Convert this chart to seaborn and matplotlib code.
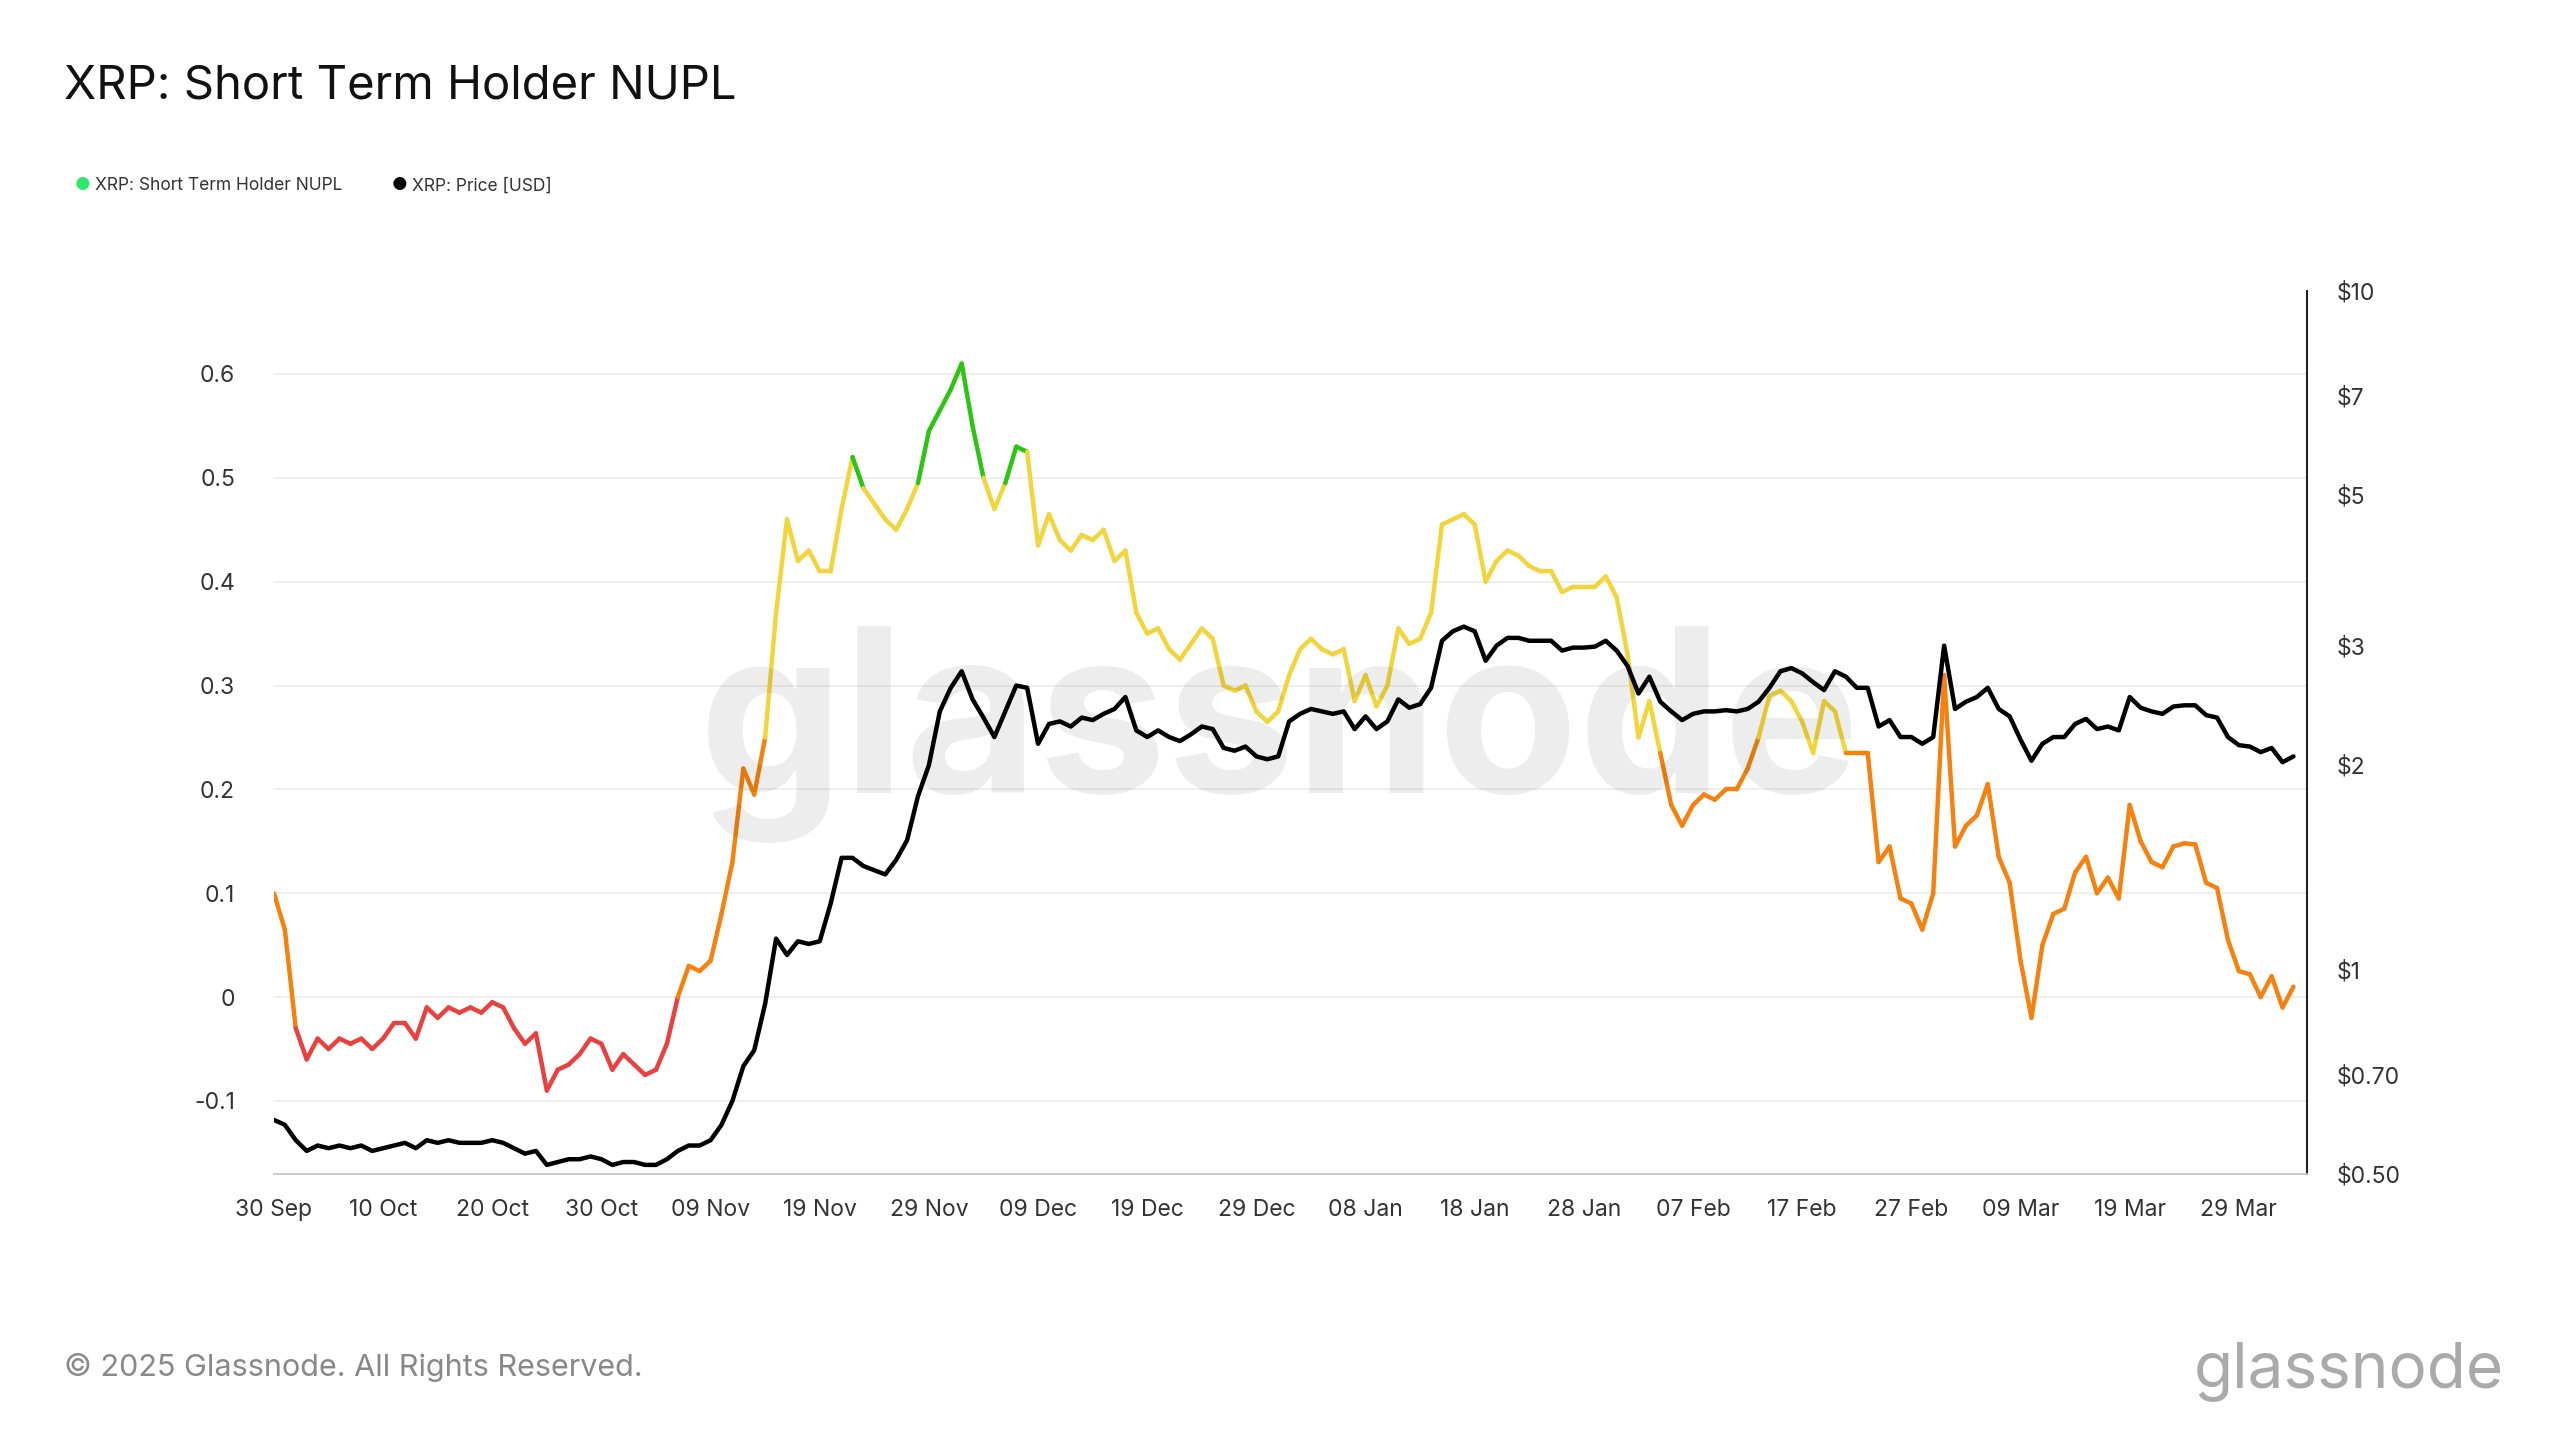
import numpy as np
import pandas as pd
import matplotlib
matplotlib.use("Agg")
import matplotlib.pyplot as plt
import matplotlib.dates as mdates
from matplotlib.collections import LineCollection
from matplotlib.colors import ListedColormap, BoundaryNorm
import seaborn as sns

# -----------------------------
# Data (daily, 30 Sep 2024 - 03 Apr 2025)
# -----------------------------
start_date = "2024-09-30"

nupl = [
    0.10,
    0.065, -0.03, -0.06, -0.04, -0.05, -0.04, -0.045, -0.04, -0.05, -0.04,
    -0.025, -0.025, -0.04, -0.01, -0.02, -0.01, -0.015, -0.01, -0.015, -0.005,
    -0.01, -0.03, -0.045, -0.035, -0.09, -0.07, -0.065, -0.055, -0.04, -0.045, -0.07,
    -0.055, -0.065, -0.075, -0.07, -0.045, 0.0, 0.03, 0.025, 0.035, 0.08,
    0.13, 0.22, 0.195, 0.25, 0.37, 0.46, 0.42, 0.43, 0.41, 0.41,
    0.47, 0.52, 0.49, 0.475, 0.46, 0.45, 0.47, 0.495, 0.545, 0.565,
    0.585, 0.61, 0.55, 0.50, 0.47, 0.495, 0.53, 0.525, 0.435, 0.465,
    0.44, 0.43, 0.445, 0.44, 0.45, 0.42, 0.43, 0.37, 0.35, 0.355,
    0.335, 0.325, 0.34, 0.355, 0.345, 0.30, 0.295, 0.30, 0.275, 0.265, 0.275,
    0.31, 0.335, 0.345, 0.335, 0.33, 0.335, 0.285, 0.31, 0.28, 0.30,
    0.355, 0.34, 0.345, 0.37, 0.455, 0.46, 0.465, 0.455, 0.40, 0.42,
    0.43, 0.425, 0.415, 0.41, 0.41, 0.39, 0.395, 0.395, 0.395, 0.405, 0.385,
    0.33, 0.25, 0.285, 0.235, 0.185, 0.165, 0.185, 0.195, 0.19, 0.20,
    0.20, 0.22, 0.25, 0.29, 0.295, 0.285, 0.265, 0.235, 0.285, 0.275,
    0.235, 0.235, 0.235, 0.13, 0.145, 0.095, 0.09, 0.065,
    0.10, 0.31, 0.145, 0.165, 0.175, 0.205, 0.135, 0.11, 0.035, -0.02,
    0.05, 0.08, 0.085, 0.12, 0.135, 0.10, 0.115, 0.095, 0.185, 0.15,
    0.13, 0.125, 0.145, 0.148, 0.147, 0.11, 0.105, 0.055, 0.025, 0.022, 0.0,
    0.02, -0.01, 0.01,
]

price = [
    0.60,
    0.59, 0.56, 0.54, 0.55, 0.545, 0.55, 0.545, 0.55, 0.54, 0.545,
    0.55, 0.555, 0.545, 0.56, 0.555, 0.56, 0.555, 0.555, 0.555, 0.56,
    0.555, 0.545, 0.535, 0.54, 0.515, 0.52, 0.525, 0.525, 0.53, 0.525, 0.515,
    0.52, 0.52, 0.515, 0.515, 0.525, 0.54, 0.55, 0.55, 0.56, 0.59,
    0.64, 0.72, 0.76, 0.89, 1.11, 1.05, 1.10, 1.09, 1.10, 1.25,
    1.46, 1.46, 1.42, 1.40, 1.38, 1.45, 1.55, 1.80, 2.00, 2.40,
    2.60, 2.75, 2.50, 2.35, 2.20, 2.40, 2.62, 2.60, 2.15, 2.30,
    2.32, 2.28, 2.35, 2.33, 2.38, 2.42, 2.52, 2.25, 2.20, 2.25,
    2.20, 2.17, 2.22, 2.28, 2.26, 2.12, 2.10, 2.13, 2.06, 2.04, 2.06,
    2.32, 2.38, 2.42, 2.40, 2.38, 2.40, 2.26, 2.36, 2.26, 2.32,
    2.50, 2.43, 2.46, 2.60, 3.05, 3.15, 3.20, 3.15, 2.85, 3.00,
    3.08, 3.08, 3.05, 3.05, 3.05, 2.95, 2.98, 2.98, 2.99, 3.05, 2.95,
    2.80, 2.55, 2.70, 2.48, 2.40, 2.33, 2.38, 2.40, 2.40, 2.41,
    2.40, 2.42, 2.48, 2.60, 2.75, 2.78, 2.73, 2.65, 2.58, 2.75,
    2.70, 2.60, 2.60, 2.28, 2.33, 2.20, 2.20, 2.15,
    2.20, 3.00, 2.42, 2.48, 2.52, 2.60, 2.42, 2.36, 2.18, 2.03,
    2.15, 2.20, 2.20, 2.30, 2.34, 2.26, 2.28, 2.25, 2.52, 2.43,
    2.40, 2.38, 2.44, 2.45, 2.45, 2.37, 2.35, 2.20, 2.14, 2.13, 2.09,
    2.12, 2.02, 2.06,
]

nupl_bounds = [-1, 0, 0.25, 0.5, 1]
nupl_colors = ["#e8413f", "#f5820f", "#f2d53c", "#2ec414"]

left_ticks = [-0.1, 0, 0.1, 0.2, 0.3, 0.4, 0.5, 0.6]
left_labels = ["-0.1", "0", "0.1", "0.2", "0.3", "0.4", "0.5", "0.6"]
right_ticks = [0.5, 0.7, 1, 2, 3, 5, 7, 10]
right_labels = ["$0.50", "$0.70", "$1", "$2", "$3", "$5", "$7", "$10"]

FONT = "Inter"

# -----------------------------
# Build frame
# -----------------------------
df = pd.DataFrame({
    "date": pd.date_range(start_date, periods=len(nupl), freq="D"),
    "nupl": nupl,
    "price": price,
})

sns.set_theme(style="white", rc={"font.family": FONT})
fig = plt.figure(figsize=(25.6, 14.4), dpi=100)
ax = fig.add_axes([0.107, 0.185, 0.794, 0.613])
ax2 = ax.twinx()

# NUPL line, coloured by regime
x = mdates.date2num(df["date"])
pts = np.column_stack([x, df["nupl"].values]).reshape(-1, 1, 2)
segs = np.concatenate([pts[:-1], pts[1:]], axis=1)
mid = (df["nupl"].values[:-1] + df["nupl"].values[1:]) / 2
cmap = ListedColormap(nupl_colors)
norm = BoundaryNorm(nupl_bounds, cmap.N)
lc = LineCollection(segs, cmap=cmap, norm=norm, linewidth=3.2, capstyle="round")
lc.set_array(mid)
ax.add_collection(lc)

# Price line
sns.lineplot(data=df, x="date", y="price", ax=ax2, color="black", linewidth=3.2)
ax2.set_yscale("log")

x_end = df["date"].iloc[-1] + pd.Timedelta(days=1.2)
ax.set_xlim(df["date"].iloc[0], x_end)
ax.set_ylim(-0.17, 0.68)
ax2.set_ylim(0.5, 10)

ax.set_yticks(left_ticks)
ax.set_yticklabels(left_labels)
ax2.set_yticks(right_ticks)
ax2.set_yticklabels(right_labels)
ax2.minorticks_off()
ax.grid(axis="y", color="#ececec", linewidth=1.2)
ax.set_axisbelow(True)

xticks = pd.date_range(start_date, periods=19, freq="10D")
ax.set_xticks(xticks)
ax.set_xticklabels([d.strftime("%d %b") for d in xticks])
ax.tick_params(axis="x", length=8, color="#cccccc", labelsize=16.5, labelcolor="#333333", pad=10)
ax.tick_params(axis="y", length=0, labelsize=16.5, labelcolor="#333333", pad=28)
ax2.tick_params(axis="y", length=0, labelsize=16.5, labelcolor="#333333", pad=22)
for a in (ax, ax2):
    a.set_xlabel("")
    a.set_ylabel("")
    for s in ("top", "left", "right"):
        a.spines[s].set_visible(False)
    a.spines["bottom"].set_color("#cccccc")
ax2.spines["right"].set_visible(True)
ax2.spines["right"].set_color("#222222")
ax2.spines["right"].set_linewidth(1.5)

# Watermark
fig.text(0.5, 0.49, "glassnode", ha="center", va="center", fontsize=165,
         color="#000000", alpha=0.07, fontweight="bold", family=FONT)

# Title, legend, footer
fig.text(0.025, 0.94, "XRP: Short Term Holder NUPL", fontsize=34, color="#111111", va="center")
fig.text(0.029, 0.871, "\u25CF", fontsize=12.5, color="#2ee86a", va="center")
fig.text(0.037, 0.871, "XRP: Short Term Holder NUPL", fontsize=12.5, color="#333333", va="center")
fig.text(0.153, 0.871, "\u25CF", fontsize=12.5, color="#000000", va="center")
fig.text(0.161, 0.871, "XRP: Price [USD]", fontsize=12.5, color="#333333", va="center")
fig.text(0.025, 0.05, "\u00A9 2025 Glassnode. All Rights Reserved.", fontsize=22, color="#888888", va="center")
fig.text(0.978, 0.048, "glassnode", fontsize=46, color="#aaaaaa", ha="right", va="center")

fig.savefig("out.png", dpi=100)
